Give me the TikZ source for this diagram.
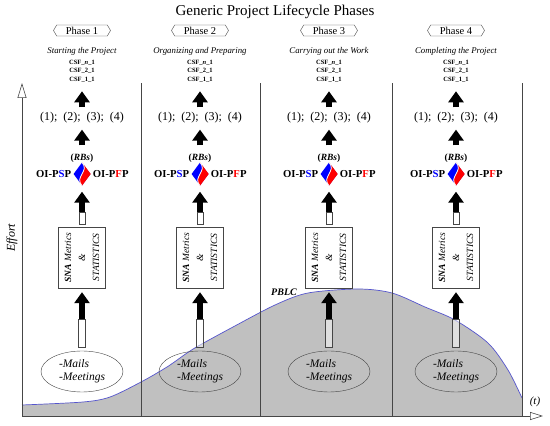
\documentclass[tikz,border=0pt]{standalone}
\usepackage{fontspec}
\setmainfont{Liberation Serif}
\usetikzlibrary{shapes,arrows.meta,calc}

\definecolor{pblcblue}{RGB}{85,85,205}
\definecolor{areagray}{RGB}{192,192,192}
\definecolor{linegray}{RGB}{70,70,70}

\begin{document}
\begin{tikzpicture}[x=1pt, y=1pt,
    tag/.style={signal, signal to=west and east, signal pointer angle=120, draw=linegray, minimum width=57pt, minimum height=11pt, inner sep=0.5pt, font=\fontsize{10.5}{11}\selectfont},
    phasetext/.style={inner sep=0pt, font=\fontsize{8.8}{10}\selectfont\itshape},
    csf/.style={align=center, inner sep=0pt, font=\fontsize{6.5}{8.5}\selectfont\bfseries},
    numtext/.style={inner sep=0pt, font=\fontsize{12}{14}\selectfont},
    oi/.style={inner sep=0pt, font=\fontsize{10.7}{12}\selectfont\bfseries},
    twotone/.style={diamond, fill=blue, minimum width=17pt, minimum height=23pt, inner sep=0pt},
    snabox/.style={rectangle, draw=linegray, fill=white, rotate=90, minimum width=61pt, minimum height=47pt, align=center, inner sep=1pt, font=\fontsize{9.5}{14}\selectfont\itshape},
    mailbox/.style={ellipse, draw=linegray, minimum width=82pt, minimum height=41pt, align=left, inner sep=0pt, font=\fontsize{11.5}{13}\selectfont\itshape},
    bigarrow/.style={line width=6pt, -{Triangle[length=11pt, width=15pt]}},
    shaft/.style={draw=linegray, line width=0.6pt, fill=white, fill opacity=0.5},
    axis/.style={draw=linegray, line width=0.6pt},
    divider/.style={draw=linegray, line width=0.6pt}
]
    \fill[white] (0,0) rectangle (550,426);
    \useasboundingbox (0,0) rectangle (550,426);

    % Lifecycle curve and area
    \fill[areagray] (22,10) -- plot[smooth] coordinates {(22,21) (83,24) (110,29) (141,44) (167,59) (187,73) (200,81) (233,99) (275,121) (308,133) (358,137) (392,133) (425,119) (455,106) (488,83) (508,56) (522,28)} -- (522,10) -- cycle;
    \draw[pblcblue, line width=0.7pt] plot[smooth] coordinates {(22,21) (83,24) (110,29) (141,44) (167,59) (187,73) (200,81) (233,99) (275,121) (308,133) (358,137) (392,133) (425,119) (455,106) (488,83) (508,56) (522,28)};

    % Axes and phase borders
    \coordinate (origin) at (22,10);
    \coordinate (ytop) at (22,343);
    \coordinate (xend) at (543,10);
    \foreach \d in {141,260,392,522}
        \draw[divider] (\d,10) -- (\d,343);
    \draw[axis, -{Triangle[open, length=15pt, width=9pt]}] (origin) -- (ytop);
    \draw[axis, -{Triangle[open, length=13pt, width=8pt]}] (origin) -- (xend);

    % Title
    \node[font=\fontsize{15}{17}\selectfont] (title) at (275,414) {Generic Project Lifecycle Phases};

    % Phases
    \foreach \x/\i/\sub in {82/1/Starting the Project, 200/2/Organizing and Preparing, 329/3/Carrying out the Work, 456/4/Completing the Project} {
        \node[tag] (phase\i) at (\x,395.5) {Phase \i};
        \node[phasetext] (sub\i) at (\x,375) {\sub};
        \node[csf] (csf\i) at (\x,355) {CSF\_\textit{n}\_1\\CSF\_2\_1\\CSF\_1\_1};
        \node[numtext] (nums\i) at (\x,308) {(1);~ (2);~ (3);~ (4)};
        \node[oi, font=\fontsize{9.5}{11}\selectfont\bfseries] (rbs\i) at (\x,268) {(\textit{RBs})};
        \node[twotone] (dia\i) at (\x,252) {};
        \fill[red] (dia\i.north) .. controls +(8,-9) and +(-8,9) .. (dia\i.south) -- (dia\i.east) -- cycle;
        \draw[white, line width=0.8pt] (dia\i.north) .. controls +(8,-9) and +(-8,9) .. (dia\i.south);
        \node[oi, anchor=east] (psp\i) at ($(dia\i.west)+(-2,0)$) {OI-P\textcolor{blue}{S}P};
        \node[oi, anchor=west] (pfp\i) at ($(dia\i.east)+(2,0)$) {OI-P\textcolor{red}{F}P};
        % rotated box: east is its top, west its bottom
        \node[snabox] (sna\i) at (\x,168.5) {\textbf{SNA} Metrics\\\&\\STATISTICS};
        \node[mailbox] (mails\i) at (\x,54.5) {-Mails\\-Meetings};

        \draw[bigarrow, shorten <=5pt, shorten >=9pt] (nums\i) -- (csf\i);
        \draw[bigarrow, shorten <=8pt, shorten >=6pt] (rbs\i) -- (nums\i);
        \draw[bigarrow, shorten <=14pt, shorten >=6pt] (sna\i.east) -- (dia\i.south);
        \draw[shaft] ($(sna\i.east)+(-3,2)$) rectangle ($(sna\i.east)+(3,14)$);
        \draw[bigarrow, shorten <=31pt, shorten >=4pt] (mails\i.north) -- (sna\i.west);
        \draw[shaft] ($(mails\i.north)+(-3.5,3)$) rectangle ($(mails\i.north)+(3.5,31)$);
    }

    % Axis labels
    \node[rotate=90, font=\fontsize{12}{14}\selectfont\itshape] (effort) at (12,188) {Effort};
    \node[font=\fontsize{11}{13}\selectfont\itshape] (tlabel) at (535,24) {(t)};
    \node[font=\fontsize{10}{12}\selectfont\bfseries\itshape] (pblc) at (284,134) {PBLC};
\end{tikzpicture}
\end{document}
